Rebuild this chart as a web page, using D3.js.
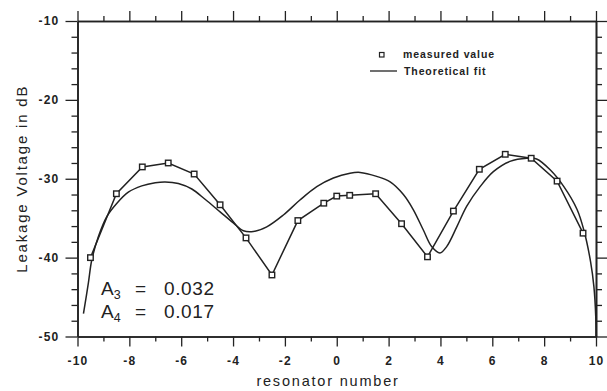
<!DOCTYPE html>
<html><head><meta charset="utf-8">
<script src="https://cdn.jsdelivr.net/npm/d3@7"></script>
<style>
body{margin:0;background:#fff;}
svg{display:block;}
.tick text{font-family:"Liberation Sans",Arial,sans-serif;font-weight:bold;font-size:12px;fill:#222;letter-spacing:1.2px;}
</style></head>
<body>
<svg id="c" width="607" height="391"></svg>
<script>
// measured values
const measX = [-9.5,-8.5,-7.5,-6.5,-5.5,-4.5,-3.5,-2.5,-1.5,-0.5,0,0.5,1.5,2.5,3.5,4.5,5.5,6.5,7.5,8.5,9.5];
const measY = [-40,-31.9,-28.5,-28,-29.4,-33.3,-37.5,-42.2,-35.3,-33.1,-32.2,-32.1,-31.9,-35.7,-39.9,-34.1,-28.8,-26.9,-27.4,-30.3,-36.9];
// theoretical fit
const fitX = [-9.77,-9.58,-9.45,-9.19,-8.87,-8.48,-8.04,-7.52,-7.0,-6.62,-6.11,-5.59,-5.08,-4.5,-3.99,-3.6,-3.22,-2.7,-2.06,-1.42,-0.77,-0.13,0.51,0.9,1.54,2.06,2.57,2.95,3.34,3.66,3.98,4.24,4.63,5.01,5.53,6.04,6.68,7.33,7.71,8.24,8.76,9.27,9.53,9.79,9.92,9.99,10.0];
const fitY = [-47.1,-43.2,-40.3,-37.3,-34.8,-33.1,-31.7,-30.9,-30.5,-30.4,-30.6,-31.3,-32.6,-34.2,-35.6,-36.6,-36.7,-36.1,-34.6,-32.7,-31.0,-29.9,-29.3,-29.2,-29.7,-30.4,-32.0,-33.9,-36.5,-38.6,-39.4,-38.6,-36.1,-33.5,-31.0,-29.1,-27.8,-27.4,-27.5,-28.9,-31.0,-33.9,-36.5,-40.5,-43.7,-47.5,-50];
const xMajorTicks = [-10,-8,-6,-4,-2,0,2,4,6,8,10];
const xMinorTicks = [-9,-7,-5,-3,-1,1,3,5,7,9];
const yMajorTicks = [-10,-20,-30,-40,-50];
const yMinorTicks = [-12,-14,-16,-18,-22,-24,-26,-28,-32,-34,-36,-38,-42,-44,-46,-48];
const xTitle = "resonator number";
const yTitle = "Leakage Voltage in dB";
const legendLabels = ["measured value","Theoretical fit"];
const annot = [["3","0.032"],["4","0.017"]];

const svg = d3.select("#c");
const L=77.5, R=596, T=21, B=336.5;
const ink = "#222";
const x = d3.scaleLinear().domain([-10,10]).range([L,R]);
const y = d3.scaleLinear().domain([-50,-10]).range([B,T]);

function styleAxis(g){
  g.selectAll("path.domain").attr("stroke",ink).attr("stroke-width",1.6);
  g.selectAll(".tick line").attr("stroke",ink).attr("stroke-width",1.3);
}
// bottom
svg.append("g").attr("transform",`translate(0,${B})`)
  .call(d3.axisBottom(x).tickValues(xMinorTicks).tickSize(5).tickSizeOuter(0).tickFormat(""))
  .call(styleAxis);
const xb = svg.append("g").attr("transform",`translate(0,${B})`)
  .call(d3.axisBottom(x).tickValues(xMajorTicks).tickSize(10).tickSizeOuter(0).tickPadding(7).tickFormat(d=>d<0?"-"+Math.abs(d):String(d)))
  .call(styleAxis);
xb.selectAll("text").attr("dy","0.95em");
// top
svg.append("g").attr("transform",`translate(0,${T})`)
  .call(d3.axisTop(x).tickValues(xMinorTicks).tickSize(5).tickSizeOuter(0).tickFormat(""))
  .call(styleAxis);
svg.append("g").attr("transform",`translate(0,${T})`)
  .call(d3.axisTop(x).tickValues(xMajorTicks).tickSize(10).tickSizeOuter(0).tickFormat(""))
  .call(styleAxis);
// left
svg.append("g").attr("transform",`translate(${L},0)`)
  .call(d3.axisLeft(y).tickValues(yMinorTicks).tickSize(6).tickSizeOuter(0).tickFormat(""))
  .call(styleAxis);
svg.append("g").attr("transform",`translate(${L},0)`)
  .call(d3.axisLeft(y).tickValues(yMajorTicks).tickSize(12).tickSizeOuter(0).tickPadding(6).tickFormat(d=>"-"+Math.abs(d)))
  .call(styleAxis);
// right
svg.append("g").attr("transform",`translate(${R},0)`)
  .call(d3.axisRight(y).tickValues(yMinorTicks).tickSize(6).tickSizeOuter(0).tickFormat(""))
  .call(styleAxis);
svg.append("g").attr("transform",`translate(${R},0)`)
  .call(d3.axisRight(y).tickValues(yMajorTicks).tickSize(12).tickSizeOuter(0).tickFormat(""))
  .call(styleAxis);

// fit curve
const fit = fitX.map((v,i)=>[v,fitY[i]]);
svg.append("path").datum(fit)
  .attr("fill","none").attr("stroke",ink).attr("stroke-width",1.5)
  .attr("d",d3.line().x(d=>x(d[0])).y(d=>y(d[1])).curve(d3.curveCatmullRom.alpha(0.5)));
// measured polyline
const meas = measX.map((v,i)=>[v,measY[i]]);
svg.append("path").datum(meas)
  .attr("fill","none").attr("stroke",ink).attr("stroke-width",1.5)
  .attr("d",d3.line().x(d=>x(d[0])).y(d=>y(d[1])));
svg.selectAll("rect.m").data(meas).enter().append("rect").attr("class","m")
  .attr("x",d=>x(d[0])-2.75).attr("y",d=>y(d[1])-2.75).attr("width",5.5).attr("height",5.5)
  .attr("fill","#fff").attr("stroke",ink).attr("stroke-width",1.4);

// legend
const lf = `"Liberation Sans",Arial,sans-serif`;
svg.append("rect").attr("x",379.5).attr("y",52.5).attr("width",4.5).attr("height",4.5)
  .attr("fill","#fff").attr("stroke",ink).attr("stroke-width",1.2);
svg.append("line").attr("x1",370).attr("x2",397).attr("y1",71).attr("y2",71).attr("stroke",ink).attr("stroke-width",1.3);
svg.append("text").attr("x",403).attr("y",58).text(legendLabels[0])
  .attr("font-family",lf).attr("font-weight","bold").attr("font-size",10.5).attr("letter-spacing",0.9).attr("fill",ink);
svg.append("text").attr("x",404).attr("y",75).text(legendLabels[1])
  .attr("font-family",lf).attr("font-weight","bold").attr("font-size",10.5).attr("letter-spacing",0.9).attr("fill",ink);

// annotations
annot.forEach((a,i)=>{
  const t = svg.append("text").attr("x",101).attr("y",295+i*23)
    .attr("font-family",lf).attr("font-size",19).attr("fill",ink);
  t.append("tspan").text("A");
  t.append("tspan").text(a[0]).attr("font-size",12.5).attr("dy",4);
  t.append("tspan").text("=").attr("x",135).attr("dy",-4);
  t.append("tspan").text(a[1]).attr("x",164).attr("letter-spacing",0.6);
});

// titles
svg.append("text").attr("x",328).attr("y",386).attr("text-anchor","middle")
  .attr("font-family",lf).attr("font-size",14.5).attr("letter-spacing",1.8).attr("fill",ink).text(xTitle);
svg.append("text").attr("transform",`translate(27,${(T+B)/2}) rotate(-90)`).attr("text-anchor","middle")
  .attr("font-family",lf).attr("font-size",15).attr("letter-spacing",1.8).attr("fill",ink).text(yTitle);
</script>
</body></html>
